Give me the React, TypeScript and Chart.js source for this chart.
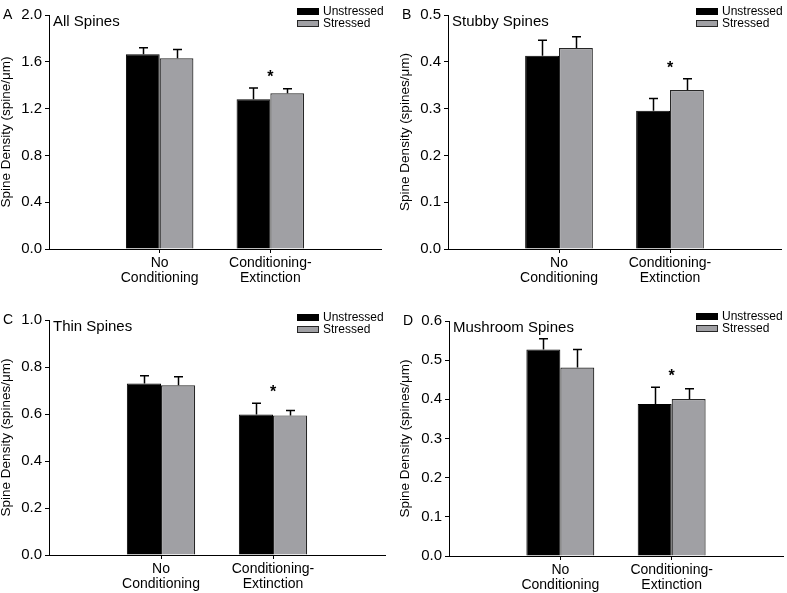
import React, { useEffect, useRef } from 'react';
import { Chart, registerables } from 'chart.js';

Chart.register(...registerables);

const FONT = "'Liberation Sans', Arial, Helvetica, sans-serif";
Chart.defaults.font.family = FONT;
Chart.defaults.color = '#000';

// ---- Data ----
const categories: any[] = ['', ['No', 'Conditioning'], ['Conditioning-', 'Extinction'], ''];
const seriesNames = ['Unstressed', 'Stressed'];
const seriesFill = ['#000000', '#a0a0a4'];
const seriesBorder = ['#000000', '#262626'];
const significance = ['', '*']; // per group: No Conditioning, Conditioning-Extinction

// A: All spines
const allUnstressed = [1.664, 1.28];
const allUnstressedErr = [0.056, 0.096];
const allStressed = [1.63, 1.331];
const allStressedErr = [0.076, 0.039];

// B: Stubby spines
const stubbyUnstressed = [0.413, 0.2955];
const stubbyUnstressedErr = [0.033, 0.026];
const stubbyStressed = [0.4295, 0.3397];
const stubbyStressedErr = [0.024, 0.024];

// C: Thin spines
const thinUnstressed = [0.73, 0.598];
const thinUnstressedErr = [0.033, 0.048];
const thinStressed = [0.722, 0.594];
const thinStressedErr = [0.036, 0.021];

// D: Mushroom spines
const mushUnstressed = [0.527, 0.388];
const mushUnstressedErr = [0.028, 0.043];
const mushStressed = [0.481, 0.401];
const mushStressedErr = [0.046, 0.026];

const yTicksA = { max: 2.0, step: 0.4 };
const yTicksB = { max: 0.5, step: 0.1 };
const yTicksC = { max: 1.0, step: 0.2 };
const yTicksD = { max: 0.6, step: 0.1 };

// ---- Layout (not data) ----
const panels = [
  {
    letter: 'A', title: 'All Spines', yTitle: 'Spine Density (spine/\u03bcm)', ticks: yTicksA,
    u: allUnstressed, ue: allUnstressedErr, s: allStressed, se: allStressedErr,
    box: { left: 0, top: 0, width: 393, height: 296 },
    area: { left: 49, right: 381, top: 15, bottom: 249 },
    legend: { x: 297, y: 8 }, yTitlePad: 0,
  },
  {
    letter: 'B', title: 'Stubby Spines', yTitle: 'Spine Density (spines/\u03bcm)', ticks: yTicksB,
    u: stubbyUnstressed, ue: stubbyUnstressedErr, s: stubbyStressed, se: stubbyStressedErr,
    box: { left: 393, top: 0, width: 394, height: 296 },
    area: { left: 55, right: 388, top: 15, bottom: 249 },
    legend: { x: 303, y: 8 }, yTitlePad: 6,
  },
  {
    letter: 'C', title: 'Thin Spines', yTitle: 'Spine Density (spines/\u03bcm)', ticks: yTicksC,
    u: thinUnstressed, ue: thinUnstressedErr, s: thinStressed, se: thinStressedErr,
    box: { left: 0, top: 296, width: 393, height: 297 },
    area: { left: 49, right: 385, top: 24, bottom: 259 },
    legend: { x: 297, y: 18 }, yTitlePad: 0,
  },
  {
    letter: 'D', title: 'Mushroom Spines', yTitle: 'Spine Density (spines/\u03bcm)', ticks: yTicksD,
    u: mushUnstressed, ue: mushUnstressedErr, s: mushStressed, se: mushStressedErr,
    box: { left: 393, top: 296, width: 394, height: 297 },
    area: { left: 56, right: 390, top: 25, bottom: 260 },
    legend: { x: 303, y: 17 }, yTitlePad: 6,
  },
];

const errorBarPlugin = {
  id: 'errorBars',
  afterDatasetsDraw(chart: any) {
    const ctx = chart.ctx;
    const yScale = chart.scales.y;
    chart.data.datasets.forEach((ds: any, di: number) => {
      const meta = chart.getDatasetMeta(di);
      meta.data.forEach((el: any, i: number) => {
        const v = ds.data[i];
        const e = ds.errors ? ds.errors[i] : null;
        if (v == null || e == null) return;
        const top = yScale.getPixelForValue(v + e);
        const x = Math.round(el.x) + 0.5;
        ctx.save();
        ctx.strokeStyle = '#000';
        ctx.lineWidth = 1.5;
        ctx.beginPath();
        ctx.moveTo(x, el.y);
        ctx.lineTo(x, top);
        ctx.moveTo(x - 4.5, top);
        ctx.lineTo(x + 4.5, top);
        ctx.stroke();
        ctx.restore();
      });
    });
  },
};

function makeDecor(p: any) {
  return {
    id: 'decor' + p.letter,
    afterDraw(chart: any) {
      const ctx = chart.ctx;
      const area = chart.chartArea;
      ctx.save();
      // panel letter
      ctx.fillStyle = '#000';
      ctx.font = `14px ${FONT}`;
      ctx.textAlign = 'left';
      ctx.textBaseline = 'middle';
      ctx.fillText(p.letter, area.left - 46, area.top);
      // in-plot title
      ctx.font = `15px ${FONT}`;
      ctx.textBaseline = 'alphabetic';
      ctx.fillText(p.title, area.left + 4, area.top + 11);
      // legend
      ctx.font = `12px ${FONT}`;
      ctx.textBaseline = 'middle';
      chart.data.datasets.forEach((ds: any, i: number) => {
        const bx = p.legend.x;
        const by = p.legend.y + i * 12;
        ctx.fillStyle = ds.backgroundColor;
        ctx.fillRect(bx, by, 22, 7);
        ctx.strokeStyle = ds.borderColor;
        ctx.lineWidth = 1;
        ctx.strokeRect(bx + 0.5, by + 0.5, 21, 6);
        ctx.fillStyle = '#000';
        ctx.fillText(ds.label, bx + 26, by + 3.5);
      });
      // significance marks
      const xScale = chart.scales.x;
      const yScale = chart.scales.y;
      significance.forEach((mark, gi) => {
        if (!mark) return;
        const idx = gi + 1;
        let minTop = Infinity;
        chart.data.datasets.forEach((ds: any) => {
          const v = ds.data[idx];
          const e = ds.errors[idx];
          if (v == null) return;
          minTop = Math.min(minTop, yScale.getPixelForValue(v + (e || 0)));
        });
        const cx = xScale.getPixelForValue(idx);
        ctx.font = `bold 16px ${FONT}`;
        ctx.textAlign = 'center';
        ctx.textBaseline = 'alphabetic';
        ctx.fillStyle = '#000';
        ctx.fillText(mark, cx, minTop - 15 + 0.58 * 16);
      });
      ctx.restore();
    },
  };
}

function Panel({ p }: { p: any }) {
  const ref = useRef<HTMLCanvasElement>(null);
  useEffect(() => {
    const canvas = ref.current;
    if (!canvas) return;
    const datasets = [
      {
        label: seriesNames[0],
        data: [null, ...p.u, null],
        errors: [null, ...p.ue, null],
        backgroundColor: seriesFill[0],
        borderColor: seriesBorder[0],
        borderWidth: 1,
        categoryPercentage: 0.61,
        barPercentage: 1.0,
      },
      {
        label: seriesNames[1],
        data: [null, ...p.s, null],
        errors: [null, ...p.se, null],
        backgroundColor: seriesFill[1],
        borderColor: seriesBorder[1],
        borderWidth: 1.2,
        categoryPercentage: 0.61,
        barPercentage: 1.0,
      },
    ];
    const chart = new Chart(canvas, {
      type: 'bar',
      data: { labels: categories, datasets: datasets as any },
      options: {
        animation: false,
        responsive: false,
        maintainAspectRatio: false,
        events: [],
        layout: {
          padding: { left: 0, top: p.area.top, right: p.box.width - p.area.right, bottom: 0 },
        },
        plugins: {
          legend: { display: false },
          tooltip: { enabled: false },
          title: { display: false },
        },
        scales: {
          x: {
            type: 'category',
            offset: false,
            grid: {
              display: true,
              offset: false,
              drawOnChartArea: false,
              drawTicks: true,
              tickLength: 4,
              lineWidth: 1,
              color: (c: any) => (c.index === 1 || c.index === 2 ? '#000' : 'rgba(0,0,0,0)'),
            },
            border: { display: true, color: '#000', width: 1 },
            ticks: {
              autoSkip: false,
              maxRotation: 0,
              minRotation: 0,
              padding: 2,
              color: '#000',
              font: { size: 14, lineHeight: 1.1 },
            },
            afterFit: (s: any) => {
              s.height = p.box.height - p.area.bottom;
            },
          },
          y: {
            min: 0,
            max: p.ticks.max,
            grid: {
              display: true,
              drawOnChartArea: false,
              drawTicks: true,
              tickLength: 4,
              color: '#000',
              lineWidth: 1,
            },
            border: { display: true, color: '#000', width: 1 },
            ticks: {
              stepSize: p.ticks.step,
              padding: 3,
              color: '#000',
              font: { size: 15 },
              callback: (v: any) => Number(v).toFixed(1),
            },
            title: {
              display: true,
              text: p.yTitle,
              color: '#000',
              font: { size: 13.5, lineHeight: 1 },
              padding: { top: p.yTitlePad, bottom: 0 },
            },
            afterFit: (s: any) => {
              s.width = p.area.left;
            },
          },
        },
      } as any,
      plugins: [errorBarPlugin, makeDecor(p)],
    });
    return () => chart.destroy();
  }, [p]);
  return (
    <canvas
      ref={ref}
      width={p.box.width}
      height={p.box.height}
      style={{
        position: 'absolute',
        left: p.box.left,
        top: p.box.top,
        width: p.box.width,
        height: p.box.height,
      }}
    />
  );
}

export default function App() {
  return (
    <div style={{ position: 'absolute', left: 0, top: 0, width: 787, height: 593, background: '#fff' }}>
      {panels.map((p) => (
        <Panel key={p.letter} p={p} />
      ))}
    </div>
  );
}
